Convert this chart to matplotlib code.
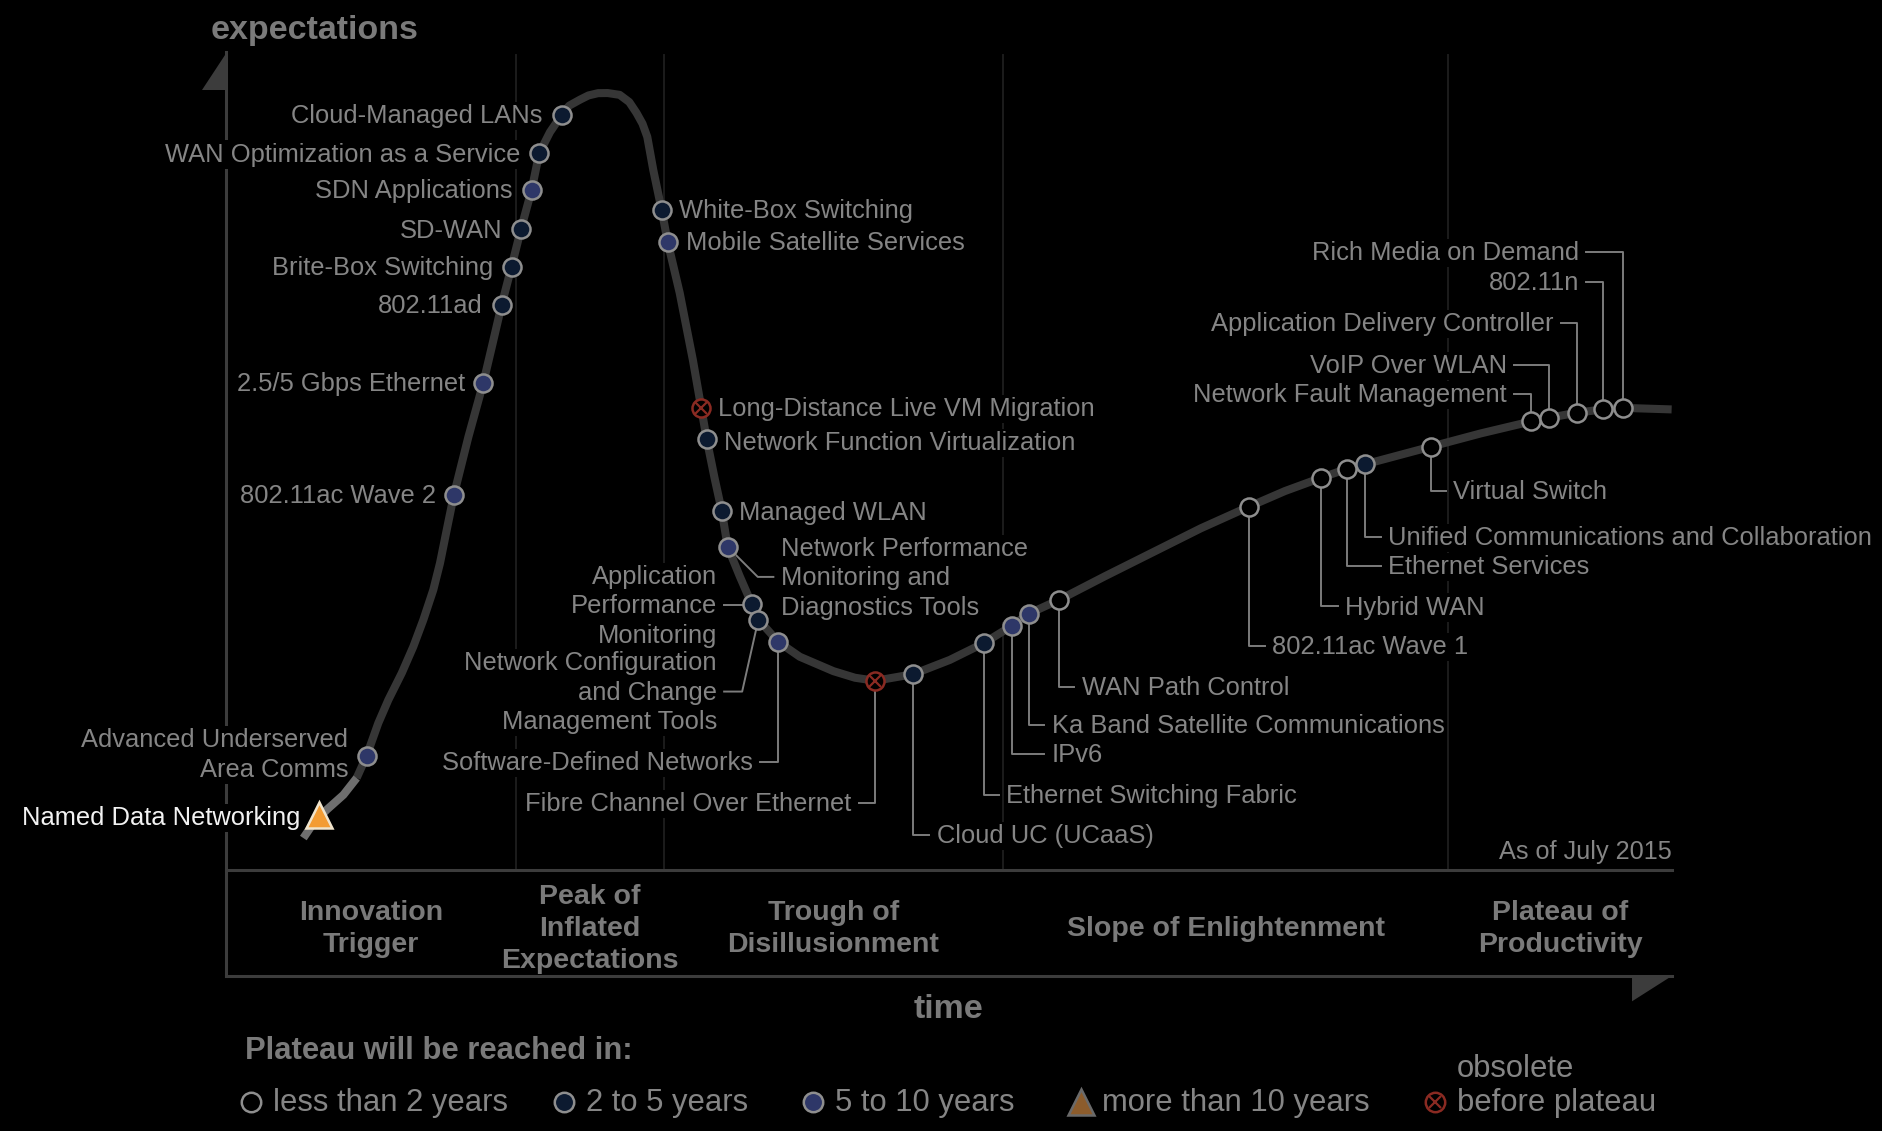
import matplotlib
matplotlib.use("Agg")
import matplotlib.pyplot as plt

plt.rcParams['font.family'] = ['Liberation Sans', 'DejaVu Sans']

# positions in a 1568 x 942 frame (x = time, y = expectations, downwards)
names = ["Named Data Networking", "Advanced Underserved\nArea Comms", "802.11ac Wave 2",
         "2.5/5 Gbps Ethernet", "802.11ad", "Brite-Box Switching", "SD-WAN",
         "SDN Applications", "WAN Optimization as a Service", "Cloud-Managed LANs",
         "White-Box Switching", "Mobile Satellite Services", "Long-Distance Live VM Migration",
         "Network Function Virtualization", "Managed WLAN",
         "Network Performance\nMonitoring and\nDiagnostics Tools",
         "Application\nPerformance\nMonitoring",
         "Network Configuration\nand Change\nManagement Tools",
         "Software-Defined Networks", "Fibre Channel Over Ethernet", "Cloud UC (UCaaS)",
         "Ethernet Switching Fabric", "IPv6", "Ka Band Satellite Communications",
         "WAN Path Control", "802.11ac Wave 1", "Hybrid WAN", "Ethernet Services",
         "Unified Communications and Collaboration", "Virtual Switch",
         "Network Fault Management", "VoIP Over WLAN", "Application Delivery Controller",
         "802.11n", "Rich Media on Demand"]
time_pos = [266, 305.3, 378, 402.5, 417.7, 426, 433.8, 442.7, 449, 467.7,
            551, 556, 584, 588.5, 601, 606, 626, 631.5, 648, 729,
            760.5, 819.5, 843, 857, 882, 1040, 1100, 1121.5, 1136.7, 1191.7,
            1275, 1290, 1313.5, 1335, 1351.5]
expect_pos = [679, 629.5, 412, 318.7, 254, 222, 190.9, 158.2, 127.7, 95.8,
              175, 201.5, 340, 366, 425.5, 455.5, 503, 516, 534.5, 567,
              561.5, 535.5, 521, 511, 499.6, 422, 398, 390.5, 386.7, 372,
              351, 348, 343.6, 341, 339.7]
plateau = ["gt10", "5to10", "5to10", "5to10", "2to5", "2to5", "2to5", "5to10", "2to5", "2to5",
           "2to5", "5to10", "obs", "2to5", "2to5", "5to10", "2to5", "2to5", "5to10", "obs",
           "2to5", "2to5", "5to10", "5to10", "lt2", "lt2", "lt2", "lt2", "2to5", "lt2",
           "lt2", "lt2", "lt2", "lt2", "lt2"]

# the hype curve
curve_t = [252.6, 261, 272, 286, 297, 305.3, 315, 323.4, 334.5, 344.2, 352.5, 360.8, 366.4,
           372, 378, 390, 402.5, 410, 417.7, 426, 433.8, 442.7, 449, 458, 467.7, 474, 483,
           490, 498, 506, 516, 524, 530, 535, 539, 544, 551, 556, 566, 577, 584, 588.5, 595,
           601, 606, 616, 626, 631.5, 648, 666, 694, 712, 729, 760.5, 791, 819.5, 843, 857,
           882, 920, 960, 1000, 1040, 1070, 1100, 1121.5, 1136.7, 1191.7, 1233, 1275, 1290,
           1313.5, 1335, 1351.5, 1392]
curve_e = [698, 685.6, 674.5, 662, 648, 629.5, 602.3, 582.9, 560.7, 538.5, 516.3, 491.3, 469,
           441.3, 412, 364, 318.7, 287, 254, 222, 190.9, 158.2, 127.7, 110, 95.8, 88, 83,
           79.5, 77.6, 77.5, 79, 85, 94, 103, 114, 141.6, 175, 201.5, 244, 300, 340, 366, 398,
           425.5, 455.5, 480, 503, 516, 534.5, 547, 559, 564.5, 567, 561.5, 549.6, 535.5, 521,
           511, 499.6, 480, 460, 440, 422, 409, 398, 390.5, 386.7, 372, 361, 351, 348, 343.6,
           341, 339.7, 341]

phases = ["Innovation\nTrigger", "Peak of\nInflated\nExpectations", "Trough of\nDisillusionment",
          "Slope of Enlightenment", "Plateau of\nProductivity"]
phase_bounds = [188, 430, 553, 835, 1206, 1392]

legend_keys = ["lt2", "2to5", "5to10", "gt10", "obs"]
legend_labels = ["less than 2 years", "2 to 5 years", "5 to 10 years", "more than 10 years",
                 "before plateau"]

# label placement: text x, text y, alignment, connector knee x (None = no connector)
label_layout = [
    (250, 680, 'right', None), (290, 628, 'right', None), (363, 412, 'right', None),
    (387, 318.7, 'right', None), (402, 254, 'right', None), (410.7, 222, 'right', None),
    (418.6, 191, 'right', None), (427, 158, 'right', None), (433.5, 127.7, 'right', None),
    (452, 95.8, 'right', None), (565, 175, 'left', None), (571, 201.5, 'left', None),
    (598, 340, 'left', None), (603, 368, 'left', None), (615, 426, 'left', None),
    (650, 480.5, 'left', 631), (597, 504, 'right', 626), (597, 576, 'right', 618),
    (627, 634.5, 'right', 648), (709, 669, 'right', 729), (780, 695.5, 'left', 760.5),
    (838, 662, 'left', 819.5), (875.7, 628, 'left', 843), (875.7, 604, 'left', 857),
    (900.7, 572, 'left', 882), (1059, 538, 'left', 1040), (1120, 505, 'left', 1100),
    (1156, 471, 'left', 1121.5), (1156, 447, 'left', 1136.7), (1210, 409, 'left', 1191.7),
    (1255, 328, 'right', 1275), (1255, 304, 'right', 1290), (1294, 269, 'right', 1313.5),
    (1315, 235, 'right', 1335), (1315, 210, 'right', 1351.5),
]

styles = {
    "lt2": dict(marker='o', mfc='black', mec='#8e8e8e'),
    "2to5": dict(marker='o', mfc='#0c1a30', mec='#8e8e8e'),
    "5to10": dict(marker='o', mfc='#2e3768', mec='#8e8e8e'),
    "gt10": dict(marker='^', mfc='#f39c33', mec='#f0e4cc'),
    "obs": dict(marker='o', mfc='black', mec='#8a2a22'),
}
RED = '#8a2a22'
TXT = '#858585'
AX = '#3c3c3c'

fig = plt.figure(figsize=(18.83, 11.31), dpi=100)
fig.patch.set_facecolor('black')
ax = fig.add_axes([0, 0, 1, 1])
ax.set_facecolor('black')
ax.set_xlim(0, 1568)
ax.set_ylim(942, 0)
ax.axis('off')

left, right = phase_bounds[0], phase_bounds[-1]
band_top, band_bot = 725, 813

# frame
for b in phase_bounds[1:-1]:
    ax.plot([b, b], [46, band_top], color='#1c1c1c', lw=1.4, zorder=1)
ax.plot([left, left], [43, band_bot], color=AX, lw=2.2, zorder=1)
ax.plot([left, right], [band_top, band_top], color=AX, lw=2.2, zorder=1)
ax.plot([left, right], [band_bot, band_bot], color=AX, lw=2.2, zorder=1)
ax.fill([left + 0.7, left + 0.7, left - 19.5], [43, 75, 75], color=AX, lw=0, zorder=1)
ax.fill([right - 33, right, right - 33], [band_bot, band_bot, band_bot + 21], color=AX, lw=0, zorder=1)

ax.text(262, 25, "expectations", color='#7a7a7a', fontsize=24.5, fontweight='bold',
        ha='center', va='center')
ax.text(790, 841, "time", color='#7a7a7a', fontsize=24.5, fontweight='bold',
        ha='center', va='center')
ax.text(right, 710, "As of July 2015", color=TXT, fontsize=18.2, ha='right', va='center')

for i, ph in enumerate(phases):
    cx = (phase_bounds[i] + phase_bounds[i + 1]) / 2
    ax.text(cx, 774, ph, color='#7a7a7a', fontsize=20.5, fontweight='bold',
            ha='center', va='center', linespacing=1.3)

# curve
ax.plot(curve_t[4:], curve_e[4:], color='#363636', lw=5.8, solid_joinstyle='round',
        solid_capstyle='butt', zorder=4)
ax.plot(curve_t[:5], curve_e[:5], color='#6e6e6e', lw=5.8, solid_joinstyle='round',
        solid_capstyle='butt', zorder=4)

# labels and connectors
for name, t, e, p, lay in zip(names, time_pos, expect_pos, plateau, label_layout):
    tx, ty, ha, knee = lay
    col = '#f2f2f2' if p == 'gt10' else TXT
    ax.text(tx, ty + 1, name, color=col, fontsize=18.4, ha=ha, va='center', linespacing=1.29,
            bbox=dict(boxstyle='square,pad=0.08', fc='black', ec='none'), zorder=2)
    if knee is not None:
        end = tx - 6 if ha == 'left' else tx + 6
        ax.plot([t, knee, end], [e, ty, ty], color='#7c7c7c', lw=1.4, zorder=3)

# markers
for t, e, p in zip(time_pos, expect_pos, plateau):
    ms = 19 if p == 'gt10' else 13
    ax.plot([t], [e], ls='none', ms=ms, mew=1.8, zorder=5, **styles[p])
    if p == 'obs':
        ax.plot([t], [e], ls='none', marker='x', ms=8, mew=1.6, color=RED, zorder=6)

# legend
ax.text(204, 875, "Plateau will be reached in:", color='#7a7a7a', fontsize=22.3,
        fontweight='bold', ha='left', va='center')
leg_x = [209, 470, 677, 900, 1195]
for x, k, lab in zip(leg_x, legend_keys, legend_labels):
    st = dict(styles[k])
    if k == 'gt10':
        st.update(mfc='#8c5c2c', mec='#6a6a6a')
    ax.plot([x], [918], ls='none', ms=19 if k == 'gt10' else 14, mew=1.8, **st)
    if k == 'obs':
        ax.plot([x], [918], ls='none', marker='x', ms=8.5, mew=1.6, color=RED)
    ax.text(x + 18, 919, lab, color=TXT, fontsize=22.3, ha='left', va='center')
ax.text(1213, 890, "obsolete", color=TXT, fontsize=22.3, ha='left', va='center')

fig.savefig("out.png", dpi=100, facecolor='black')
